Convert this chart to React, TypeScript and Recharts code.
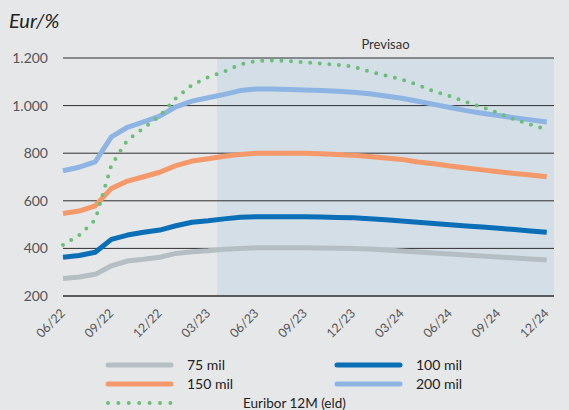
import React from 'react';
import { LineChart, Line, XAxis, YAxis, ReferenceArea, ReferenceLine } from 'recharts';

// monthly points, 06/22 .. 12/24
const monthLabels = [
  '06/22', '07/22', '08/22', '09/22', '10/22', '11/22', '12/22', '01/23', '02/23', '03/23', '04/23',
  '05/23', '06/23', '07/23', '08/23', '09/23', '10/23', '11/23', '12/23', '01/24', '02/24', '03/24',
  '04/24', '05/24', '06/24', '07/24', '08/24', '09/24', '10/24', '11/24', '12/24',
];
const xTicks = [0, 3, 6, 9, 12, 15, 18, 21, 24, 27, 30];

const mil75 = [274, 280, 291, 327, 347, 354, 363, 379, 386, 390, 396, 400, 403, 403, 403, 403, 402, 401, 400, 397, 393, 389, 385, 381, 376, 372, 368, 364, 360, 355, 351];
const mil100 = [363, 370, 384, 438, 456, 468, 477, 495, 510, 516, 524, 531, 533, 533, 533, 533, 532, 530, 529, 525, 520, 515, 510, 505, 499, 494, 490, 485, 479, 473, 468];
const mil150 = [547, 557, 579, 652, 683, 701, 720, 748, 767, 777, 787, 795, 800, 800, 800, 800, 798, 795, 791, 786, 780, 774, 763, 756, 746, 738, 730, 722, 715, 708, 701];
const mil200 = [726, 741, 764, 869, 909, 932, 956, 995, 1019, 1033, 1047, 1063, 1070, 1070, 1068, 1066, 1063, 1060, 1056, 1050, 1040, 1031, 1018, 1005, 992, 979, 968, 958, 949, 940, 931];
const euribor = [414, 455, 520, 750, 855, 905, 956, 1031, 1087, 1119, 1143, 1173, 1187, 1190, 1187, 1182, 1176, 1171, 1164, 1143, 1127, 1110, 1087, 1060, 1040, 1015, 993, 969, 942, 920, 900];

const yTicks = [200, 400, 600, 800, 1000, 1200];
const yTickLabels = ['200', '400', '600', '800', '1.000', '1.200'];

const forecastStart = 9.55;
const forecastEnd = 30.45;

const data = monthLabels.map((m, i) => ({
  idx: i,
  m75: mil75[i],
  m100: mil100[i],
  m150: mil150[i],
  m200: mil200[i],
  eur: euribor[i],
}));

const series = [
  { key: 'm75', name: '75 mil', color: '#b5bfc3', dotted: false },
  { key: 'm100', name: '100 mil', color: '#0b6fb8', dotted: false },
  { key: 'm150', name: '150 mil', color: '#f5996a', dotted: false },
  { key: 'm200', name: '200 mil', color: '#8eb4e3', dotted: false },
  { key: 'eur', name: 'Euribor 12M (eld)', color: '#6abf78', dotted: true },
];

// legend slots: [sample x, row y, text x]
const legendSlots = [
  [106, 365, 187],
  [335, 365, 416],
  [106, 384, 187],
  [335, 384, 416],
  [106, 403, 243],
];

const font = 'Lato, "Open Sans", sans-serif';

const XTick = (props: any) => {
  const { x, y, payload } = props;
  return (
    <g transform={`translate(${x + 3},${y + 10}) rotate(-45)`}>
      <text x={0} y={0} textAnchor="end" fill="#555" fontSize={12.5} fontFamily={font}>
        {monthLabels[payload.value]}
      </text>
    </g>
  );
};

const App = () => {
  return (
    <div style={{ position: 'absolute', left: 0, top: 0, width: 569, height: 410, background: '#e6e7e9', overflow: 'hidden' }}>
      <div style={{ position: 'absolute', left: 9, top: 10, fontFamily: font, fontStyle: 'italic', fontSize: 20, lineHeight: '20px', color: '#222' }}>
        Eur/%
      </div>
      <LineChart width={569} height={345} data={data} margin={{ top: 58, right: 15, left: 8, bottom: 4 }}>
        <ReferenceArea
          x1={forecastStart}
          x2={forecastEnd}
          y1={200}
          y2={1200}
          fill="#d3dee6"
          fillOpacity={1}
          stroke="none"
          label={{ value: 'Previsao', position: 'top', offset: 9, fill: '#333', fontSize: 13, fontFamily: font }}
        />
        {yTicks.map((t) => (
          <ReferenceLine key={t} y={t} stroke="#2e2e2e" strokeWidth={t === 200 ? 1.6 : 1} />
        ))}
        <XAxis
          dataKey="idx"
          type="number"
          domain={[0, forecastEnd]}
          ticks={xTicks}
          interval={0}
          axisLine={false}
          tickLine={false}
          height={45}
          tick={<XTick />}
        />
        <YAxis
          domain={[200, 1200]}
          ticks={yTicks}
          interval={0}
          axisLine={false}
          tickLine={false}
          width={55}
          tickMargin={9}
          tickFormatter={(v: number) => yTickLabels[yTicks.indexOf(v)]}
          tick={{ fill: '#555', fontSize: 14, fontFamily: font }}
        />
        {series.map((s) => (
          <Line
            key={s.key}
            dataKey={s.key}
            type="linear"
            stroke={s.color}
            strokeWidth={s.dotted ? 4 : 5}
            strokeDasharray={s.dotted ? '0 9.6' : undefined}
            strokeLinecap={s.dotted ? 'round' : 'butt'}
            strokeLinejoin="round"
            dot={false}
            activeDot={false}
            isAnimationActive={false}
          />
        ))}
      </LineChart>
      <svg width={569} height={410} style={{ position: 'absolute', left: 0, top: 0, pointerEvents: 'none' }}>
        {series.map((s, i) => {
          const [sx, sy, tx] = legendSlots[i];
          return (
            <g key={s.key}>
              <line
                x1={sx + 2}
                x2={sx + 65}
                y1={sy}
                y2={sy}
                stroke={s.color}
                strokeWidth={s.dotted ? 4 : 5}
                strokeLinecap="round"
                strokeDasharray={s.dotted ? '0 10.4' : undefined}
              />
              <text x={tx} y={sy} dy="0.35em" fill="#222" fontSize={s.dotted ? 13.5 : 14} fontFamily={font}>
                {s.name}
              </text>
            </g>
          );
        })}
      </svg>
    </div>
  );
};

export default App;
